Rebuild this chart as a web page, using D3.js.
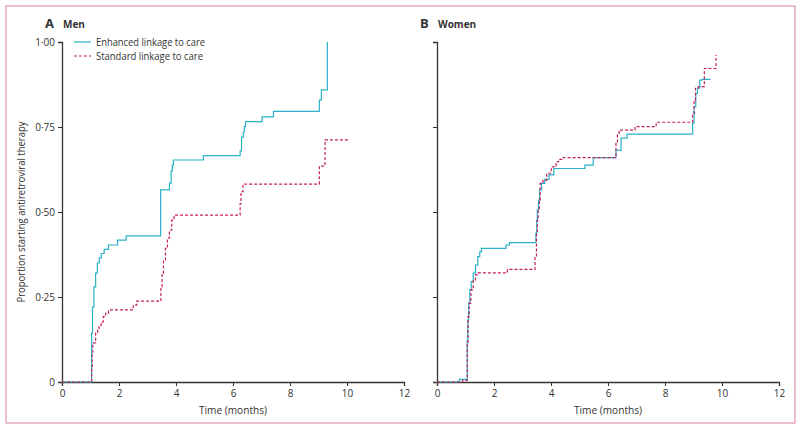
<!DOCTYPE html>
<html><head><meta charset="utf-8">
<script src="https://cdn.jsdelivr.net/npm/d3@7"></script>
<style>
html,body{margin:0;padding:0;background:#fff;}
svg text{font-family:"Open Sans",sans-serif;fill:#333;}
</style></head>
<body><svg id="c" width="800" height="430"></svg>
<script>
// ---- data ----
const xTicks = [0, 2, 4, 6, 8, 10, 12];
const yTicks = [0, 0.25, 0.5, 0.75, 1.0];
const yTickLabels = ["0", "0·25", "0·50", "0·75", "1·00"];
const seriesNames = ["Enhanced linkage to care", "Standard linkage to care"];
const panelTitles = [["A", "Men"], ["B", "Women"]];

// Men – enhanced
const menEnhT = [0, 1.04, 1.07, 1.12, 1.18, 1.24, 1.31, 1.38, 1.48, 1.63, 1.95, 2.25, 3.46, 3.56, 3.77, 3.83, 3.87, 3.91, 4.96, 6.25, 6.30, 6.36, 6.40, 6.44, 6.48, 7.02, 7.42, 9.03, 9.10, 9.31];
const menEnhV = [0, 0.144, 0.22, 0.28, 0.32, 0.35, 0.365, 0.378, 0.39, 0.403, 0.417, 0.43, 0.565, 0.565, 0.585, 0.62, 0.638, 0.653, 0.666, 0.68, 0.72, 0.736, 0.751, 0.766, 0.766, 0.78, 0.796, 0.829, 0.859, 1.0];
// Men – standard
const menStdT = [0, 1.04, 1.06, 1.08, 1.18, 1.25, 1.30, 1.37, 1.45, 1.53, 1.63, 2.50, 2.62, 3.47, 3.51, 3.56, 3.63, 3.70, 3.77, 3.85, 3.93, 4.00, 6.25, 6.28, 6.35, 6.54, 9.03, 9.23, 10.05];
const menStdV = [0, 0.045, 0.085, 0.115, 0.144, 0.153, 0.163, 0.177, 0.192, 0.202, 0.212, 0.226, 0.238, 0.28, 0.32, 0.359, 0.393, 0.423, 0.447, 0.476, 0.491, 0.491, 0.525, 0.56, 0.582, 0.582, 0.635, 0.712, 0.712];
// Women – enhanced
const womEnhT = [0, 0.78, 1.06, 1.08, 1.11, 1.15, 1.20, 1.27, 1.35, 1.43, 1.50, 1.56, 2.42, 2.54, 3.47, 3.50, 3.52, 3.56, 3.60, 3.67, 3.78, 3.93, 4.10, 5.19, 5.48, 6.28, 6.46, 6.67, 8.97, 9.02, 9.08, 9.14, 9.22, 9.30, 9.34, 9.60];
const womEnhV = [0, 0.008, 0.124, 0.182, 0.232, 0.271, 0.295, 0.32, 0.344, 0.369, 0.383, 0.393, 0.403, 0.41, 0.438, 0.476, 0.506, 0.535, 0.565, 0.584, 0.596, 0.609, 0.628, 0.638, 0.66, 0.682, 0.717, 0.729, 0.761, 0.81, 0.849, 0.864, 0.888, 0.89, 0.89, 0.89];
// Women – standard
const womStdT = [0, 0.90, 1.06, 1.09, 1.13, 1.19, 1.27, 1.35, 1.44, 1.51, 2.47, 2.55, 3.44, 3.49, 3.52, 3.55, 3.59, 3.62, 3.72, 3.85, 4.01, 4.18, 4.27, 4.40, 4.57, 6.28, 6.33, 6.39, 6.46, 6.95, 7.69, 8.97, 9.02, 9.07, 9.17, 9.38, 9.79];
const womStdV = [0, 0.005, 0.114, 0.192, 0.232, 0.271, 0.30, 0.315, 0.321, 0.321, 0.331, 0.331, 0.369, 0.438, 0.476, 0.506, 0.535, 0.584, 0.594, 0.614, 0.633, 0.648, 0.655, 0.66, 0.66, 0.702, 0.731, 0.741, 0.741, 0.751, 0.764, 0.79, 0.829, 0.864, 0.869, 0.922, 0.962];

const panels = [
  {x0: 62, series: [[menEnhT, menEnhV], [menStdT, menStdV]], yLabels: true},
  {x0: 437, series: [[womEnhT, womEnhV], [womStdT, womStdV]], yLabels: false}
];
const colors = ["#2bb2c8", "#c41f5a"];
const dashes = [null, "3,2"];

const svg = d3.select("#c");
svg.append("rect").attr("x", 6).attr("y", 6).attr("width", 789).attr("height", 417)
  .attr("fill", "none").attr("stroke", "#e393b0").attr("stroke-width", 1.2);

const W = 342, yTop = 42, yBot = 382;
const y = d3.scaleLinear().domain([0, 1]).range([yBot, yTop]);

panels.forEach((p, i) => {
  const x = d3.scaleLinear().domain([0, 12]).range([p.x0, p.x0 + W]);
  const g = svg.append("g");

  // y axis
  const ya = d3.axisLeft(y).tickValues(yTicks).tickSize(4).tickPadding(3)
    .tickFormat((d, k) => p.yLabels ? yTickLabels[k] : "");
  const yg = g.append("g").attr("transform", `translate(${p.x0},0)`).call(ya);
  yg.select(".domain").attr("stroke", "#333").attr("stroke-width", 1.3);
  yg.selectAll(".tick line").attr("stroke", "#333");
  yg.selectAll(".tick text").attr("font-size", 10).attr("fill", "#333")
    .style("font-family", "'Open Sans',sans-serif");

  // x axis
  const xa = d3.axisBottom(x).tickValues(xTicks).tickSize(4).tickPadding(4).tickFormat(d3.format("d"));
  const xg = g.append("g").attr("transform", `translate(0,${yBot})`).call(xa);
  xg.select(".domain").attr("stroke", "#333").attr("stroke-width", 1.3);
  xg.selectAll(".tick line").attr("stroke", "#333");
  xg.selectAll(".tick text").attr("font-size", 10).attr("fill", "#333")
    .style("font-family", "'Open Sans',sans-serif");

  g.append("text").attr("x", x(6)).attr("y", 414).attr("text-anchor", "middle")
    .attr("font-size", 11).attr("textLength", 68).attr("lengthAdjust", "spacingAndGlyphs")
    .text("Time (months)");

  // titles
  g.append("text").attr("x", p.x0 - 17).attr("y", 28).attr("font-size", 13).attr("font-weight", "bold")
    .text(panelTitles[i][0]);
  g.append("text").attr("x", p.x0 + 1).attr("y", 28).attr("font-size", 10).attr("font-weight", "bold")
    .text(panelTitles[i][1]);

  // lines
  const line = d3.line().curve(d3.curveStepAfter).x(d => x(d[0])).y(d => y(d[1]));
  p.series.forEach((s, k) => {
    const pts = s[0].map((t, j) => [t, s[1][j]]);
    g.append("path").datum(pts).attr("d", line).attr("fill", "none")
      .attr("stroke", colors[k]).attr("stroke-width", 1.2)
      .attr("stroke-dasharray", dashes[k]);
  });
});

// y label
svg.append("text").attr("transform", `translate(25,${y(0.5)}) rotate(-90)`)
  .attr("text-anchor", "middle").attr("font-size", 11)
  .attr("textLength", 181).attr("lengthAdjust", "spacingAndGlyphs")
  .text("Proportion starting antiretroviral therapy");

// legend
seriesNames.forEach((n, k) => {
  const ly = 42 + k * 14;
  svg.append("line").attr("x1", 74).attr("x2", 91).attr("y1", ly).attr("y2", ly)
    .attr("stroke", colors[k]).attr("stroke-width", 1.2).attr("stroke-dasharray", dashes[k]);
  svg.append("text").attr("x", 96).attr("y", ly + 4).attr("font-size", 11)
    .attr("textLength", k === 0 ? 109 : 107).attr("lengthAdjust", "spacingAndGlyphs").text(n);
});
</script></body></html>
